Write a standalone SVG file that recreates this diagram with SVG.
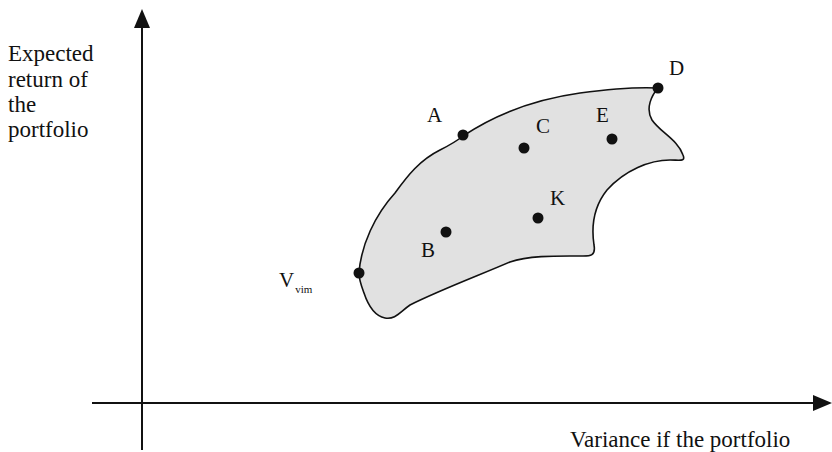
<svg xmlns="http://www.w3.org/2000/svg" width="832" height="452" viewBox="0 0 832 452">
<defs>
<style>
.t{font-family:"Liberation Serif","Times New Roman",serif;font-size:23px;fill:#111}
.l{font-family:"Liberation Serif","Times New Roman",serif;font-size:21px;fill:#111}
.ax{stroke:#111;stroke-width:2;fill:none}
.dot{fill:#111}
</style>
</defs>
<rect width="832" height="452" fill="#fff"/>
<g id="axes">
<line class="ax" x1="142" y1="24" x2="142" y2="450"/>
<polygon points="142,9 134,28 150,28" fill="#111"/>
<line class="ax" x1="92" y1="403" x2="818" y2="403"/>
<polygon points="832,403 813,395 813,411" fill="#111"/>
</g>
<g id="region">
<path d="M359,273 C361,245 375,215 395,193 C408,175 420,160 440,150 C450,145 458,140 463,136 C490,118 530,100 580,93 C610,89 640,87 658,88 C652,95 645,108 652,120 C660,132 678,140 683,155 C686,162 680,160 670,160 C650,160 625,170 607,190 C595,205 591,225 594,245 C596,256 590,256 583,256 C560,256 530,255 510,262 C480,275 440,290 410,305 C400,312 395,320 385,318 C375,316 368,305 364,293 C361,285 359,280 359,273 Z" fill="#e1e1e1" stroke="#111" stroke-width="1.6"/>
</g>
<g id="point-A"><circle class="dot" cx="463" cy="135" r="5.5"/><text class="l" x="427" y="122">A</text></g>
<g id="point-C"><circle class="dot" cx="524" cy="148" r="5.5"/><text class="l" x="536" y="133">C</text></g>
<g id="point-E"><circle class="dot" cx="612" cy="139" r="5.5"/><text class="l" x="596" y="122">E</text></g>
<g id="point-D"><circle class="dot" cx="658" cy="88" r="5.5"/><text class="l" x="669" y="75">D</text></g>
<g id="point-K"><circle class="dot" cx="538" cy="218" r="5.5"/><text class="l" x="550" y="205">K</text></g>
<g id="point-B"><circle class="dot" cx="446" cy="232" r="5.5"/><text class="l" x="421" y="257">B</text></g>
<g id="point-Vvim"><circle class="dot" cx="359" cy="273" r="5.5"/><text class="l" x="279" y="287">V<tspan font-size="11" dy="6" dx="1">vim</tspan></text></g>
<g id="y-label">
<text class="t" x="8" y="61">Expected</text>
<text class="t" x="8" y="87">return of</text>
<text class="t" x="8" y="112">the</text>
<text class="t" x="8" y="137">portfolio</text>
</g>
<g id="x-label"><text class="t" x="570" y="447">Variance if the portfolio</text></g>
</svg>
